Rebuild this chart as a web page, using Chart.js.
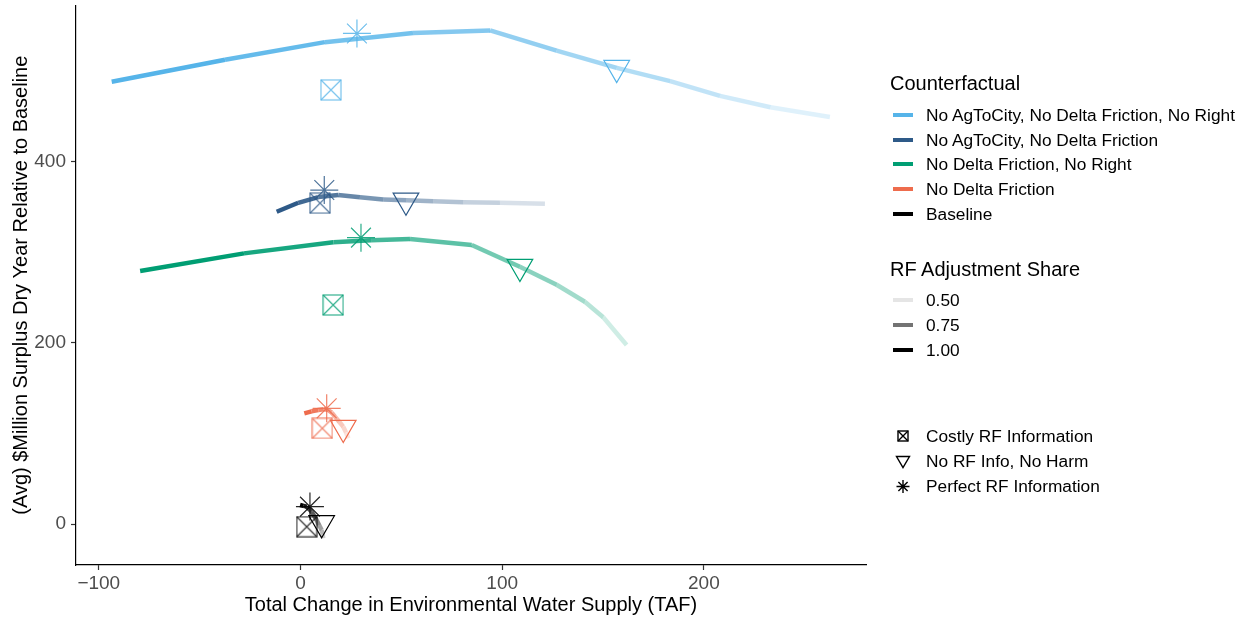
<!DOCTYPE html>
<html>
<head>
<meta charset="utf-8">
<script src="https://cdn.jsdelivr.net/npm/chart.js@4.4.1/dist/chart.umd.min.js"></script>
<style>
  body { margin: 0; background: #fff; font-family: "Liberation Sans", Arial, sans-serif; }
  #wrap { position: relative; width: 1247px; height: 617px; overflow: hidden; }
  #chart { position: absolute; left: 0; top: 0; }
  .lg-title { position: absolute; left: 890px; font-size: 20px; color: #000; line-height: 24px; white-space: nowrap; }
  .lg-item { position: absolute; left: 890px; height: 24px; line-height: 24px; font-size: 17.3px; color: #000; white-space: nowrap; }
  .lg-item .key { position: absolute; left: 3px; top: 10px; width: 20px; height: 4px; }
  .lg-item .sym { position: absolute; left: 5px; top: 4px; width: 16px; height: 16px; }
  .lg-item .txt { position: absolute; left: 36px; top: 0; }
</style>
</head>
<body>
<div id="wrap">
  <canvas id="chart" width="1247" height="617"></canvas>
  <div id="legend"></div>
</div>
<script>
  const counterfactuals = [
    "No AgToCity, No Delta Friction, No Right",
    "No AgToCity, No Delta Friction",
    "No Delta Friction, No Right",
    "No Delta Friction",
    "Baseline",
  ];
  const cfColors = ["#56B4E9", "#2E5A88", "#009E73", "#EE6C4D", "#000000"];

  // RF adjustment share along each path (1.00 -> 0.50)
  const shares = [1.0, 0.95, 0.9, 0.85, 0.8, 0.75, 0.7, 0.65, 0.6, 0.55, 0.5];
  const shareLegend = [0.5, 0.75, 1.0];

  const agCityRightX = [-93.6, -37.4, 12.1, 55.8, 94, 127, 156.8, 183.3, 208, 233, 262.5];
  const agCityRightY = [488.7, 513, 532.4, 542.4, 545.3, 523, 504, 489.3, 473, 460.5, 449.6];

  const agCityX = [-11.8, -1.1, 8.8, 18.7, 29.5, 41, 52.6, 65.8, 80.7, 98.9, 121.2];
  const agCityY = [345, 354.9, 361.2, 363.5, 361, 358.6, 357.7, 356.7, 355.6, 355, 353.8];

  const deltaRightX = [-79.5, -28, 16.3, 35, 54.3, 84.9, 108.8, 127, 141, 150.1, 161.7];
  const deltaRightY = [279.6, 299, 311.3, 313.5, 314.9, 308.3, 284.3, 264.4, 245.6, 228.4, 197.8];

  const deltaX = [1.9, 5.5, 8.8, 11.5, 13.5, 15.5, 17.1, 19.2, 21.2, 22.6, 23.7];
  const deltaY = [122.3, 124.5, 126, 126.8, 126.2, 123, 118.6, 113, 107.5, 101, 94.7];

  const baseX = [-0.2, 1.5, 3.1, 4.3, 5.5, 6.8, 8, 9.2, 10.5, 11, 11.3];
  const baseY = [21, 20, 19.2, 16.5, 13.6, 9, 4.4, -1, -6.6, -11, -15.8];

  const pathX = [agCityRightX, agCityX, deltaRightX, deltaX, baseX];
  const pathY = [agCityRightY, agCityY, deltaRightY, deltaY, baseY];

  // information scenarios, one value per counterfactual
  const infoLabels = ["Costly RF Information", "No RF Info, No Harm", "Perfect RF Information"];
  const costlyX = [15.1, 9.7, 16.2, 10.8, 3.1];
  const costlyY = [479.6, 354.5, 242, 105.7, -3];
  const noHarmX = [156.8, 52.3, 108.8, 21.2, 10.5];
  const noHarmY = [504, 357.5, 284.3, 106.4, 1];
  const perfectX = [28, 11.8, 30, 13, 4.7];
  const perfectY = [542, 369, 316.4, 127.8, 19.2];

  const xTicks = [-100, 0, 100, 200];
  const yTicks = [0, 200, 400];

  // wanted plot panel edges on the page (px)
  const PAGE_W = 1247;
  const PAGE_H = 617;
  const PANEL_TOP = 5;
  const X_AXIS_HEIGHT = 52;

  function rgba(hex, a) {
    const n = parseInt(hex.slice(1), 16);
    return `rgba(${(n >> 16) & 255},${(n >> 8) & 255},${n & 255},${a})`;
  }

  // alpha scale like ggplot: 0.5 -> 0.1, 1.0 -> 1
  function shareAlpha(s) {
    return 0.1 + 0.9 * (s - 0.5) / 0.5;
  }

  function boxImage(color, size) {
    const c = document.createElement("canvas");
    c.width = size + 2;
    c.height = size + 2;
    const g = c.getContext("2d");
    g.strokeStyle = color;
    g.lineWidth = 1.2;
    g.strokeRect(1, 1, size, size);
    g.beginPath();
    g.moveTo(1, 1);
    g.lineTo(size + 1, size + 1);
    g.moveTo(size + 1, 1);
    g.lineTo(1, size + 1);
    g.stroke();
    return c;
  }

  const toPoints = (xs, ys) => xs.map((x, i) => ({ x, y: ys[i] }));
  const minus = (v) => (v < 0 ? "\u2212" + Math.abs(v) : String(v));

  function buildDatasets() {
    const datasets = [];
    counterfactuals.forEach((name, k) => {
      datasets.push({
        type: "line",
        label: name,
        data: toPoints(pathX[k], pathY[k]),
        showLine: true,
        borderWidth: 4.5,
        borderColor: cfColors[k],
        pointRadius: 0,
        tension: 0,
        order: 2,
        segment: {
          borderColor: (ctx) => rgba(cfColors[k], shareAlpha(shares[ctx.p0DataIndex])),
        },
      });
    });

    datasets.push({
      type: "scatter",
      label: infoLabels[0],
      data: toPoints(costlyX, costlyY),
      pointStyle: cfColors.map((c) => boxImage(rgba(c, 0.8), 20)),
      pointRadius: 10,
      order: 1,
    });

    datasets.push({
      type: "scatter",
      label: infoLabels[1],
      data: toPoints(noHarmX, noHarmY),
      pointStyle: "triangle",
      rotation: 180,
      pointRadius: 14.8,
      pointBorderWidth: 1.2,
      pointBorderColor: cfColors,
      pointBackgroundColor: "rgba(0,0,0,0)",
      order: 0,
    });

    datasets.push({
      type: "scatter",
      label: infoLabels[2],
      data: toPoints(perfectX, perfectY),
      pointStyle: "star",
      pointRadius: 14,
      pointBorderWidth: 1.2,
      pointBorderColor: cfColors.map((c) => rgba(c, 0.85)),
      pointBackgroundColor: "rgba(0,0,0,0)",
      order: 1,
    });
    return datasets;
  }

  const canvas = document.getElementById("chart");

  function makeChart() {
    return new Chart(canvas, {
      type: "scatter",
      data: { datasets: buildDatasets() },
      options: {
        responsive: false,
        animation: false,
        devicePixelRatio: 1,
        layout: { autoPadding: false, padding: { top: PANEL_TOP, right: 381, left: 0, bottom: 0 } },
        plugins: {
          legend: { display: false },
          tooltip: { enabled: false },
        },
        scales: {
          x: {
            type: "linear",
            min: -111.3,
            max: 280.4,
            afterBuildTicks: (s) => { s.ticks = xTicks.map((v) => ({ value: v })); },
            afterFit: (s) => { s.height = X_AXIS_HEIGHT; },
            ticks: {
              color: "#4D4D4D",
              font: { family: "Liberation Sans", size: 19 },
              padding: 2,
              callback: minus,
            },
            grid: { drawOnChartArea: false, tickLength: 5, tickColor: "#333", tickWidth: 1.2 },
            border: { color: "#000", width: 1.2 },
            title: {
              display: true,
              text: "Total Change in Environmental Water Supply (TAF)",
              color: "#000",
              font: { family: "Liberation Sans", size: 20 },
              padding: { top: 0, bottom: 0 },
            },
          },
          y: {
            type: "linear",
            min: -45.3,
            max: 573,
            afterBuildTicks: (s) => { s.ticks = yTicks.map((v) => ({ value: v })); },
            afterFit: (s) => { s.width = 76; },
            ticks: {
              color: "#4D4D4D",
              font: { family: "Liberation Sans", size: 19 },
              padding: 5,
              callback: minus,
            },
            grid: { drawOnChartArea: false, tickLength: 5, tickColor: "#333", tickWidth: 1.2 },
            border: { color: "#000", width: 1.2 },
            title: {
              display: true,
              text: "(Avg) $Million Surplus Dry Year Relative to Baseline",
              color: "#000",
              font: { family: "Liberation Sans", size: 20 },
              padding: { top: 9, bottom: 0 },
            },
          },
        },
      },
    });
  }

  // the layout keeps a minimum gap above the panel; redraw on a taller canvas
  // shifted up by that gap so the panel spans the same rows as the original
  let chart = makeChart();
  const extra = Math.round(chart.chartArea.top - PANEL_TOP);
  if (extra > 0) {
    chart.destroy();
    canvas.width = PAGE_W;
    canvas.height = PAGE_H + extra;
    canvas.style.width = PAGE_W + "px";
    canvas.style.height = PAGE_H + extra + "px";
    canvas.style.top = -extra + "px";
    chart = makeChart();
  }

  // legend
  const legend = document.getElementById("legend");
  let html = "";
  html += `<div class="lg-title" style="top:71px">Counterfactual</div>`;
  counterfactuals.forEach((name, i) => {
    const top = 103 + i * 24.7;
    html += `<div class="lg-item" style="top:${top}px"><span class="key" style="background:${cfColors[i]}"></span><span class="txt">${name}</span></div>`;
  });
  html += `<div class="lg-title" style="top:257px">RF Adjustment Share</div>`;
  shareLegend.forEach((s, i) => {
    const top = 288 + i * 25;
    html += `<div class="lg-item" style="top:${top}px"><span class="key" style="background:${rgba("#000000", shareAlpha(s))}"></span><span class="txt">${s.toFixed(2)}</span></div>`;
  });
  const syms = [
    `<svg class="sym" viewBox="0 0 16 16"><rect x="3" y="3" width="10" height="10" fill="none" stroke="#000" stroke-width="1.4"/><path d="M3 3L13 13M13 3L3 13" stroke="#000" stroke-width="1.4"/></svg>`,
    `<svg class="sym" viewBox="0 0 16 16"><path d="M1.5 3.5L14.5 3.5L8 14.5Z" fill="none" stroke="#000" stroke-width="1.4"/></svg>`,
    `<svg class="sym" viewBox="0 0 16 16"><path d="M1.5 8.5H14.5M8 2V15M3.4 3.9L12.6 13.1M12.6 3.9L3.4 13.1" stroke="#000" stroke-width="1.4"/></svg>`,
  ];
  infoLabels.forEach((name, i) => {
    const top = 424 + i * 25;
    html += `<div class="lg-item" style="top:${top}px">${syms[i]}<span class="txt">${name}</span></div>`;
  });
  legend.innerHTML = html;
</script>
</body>
</html>
